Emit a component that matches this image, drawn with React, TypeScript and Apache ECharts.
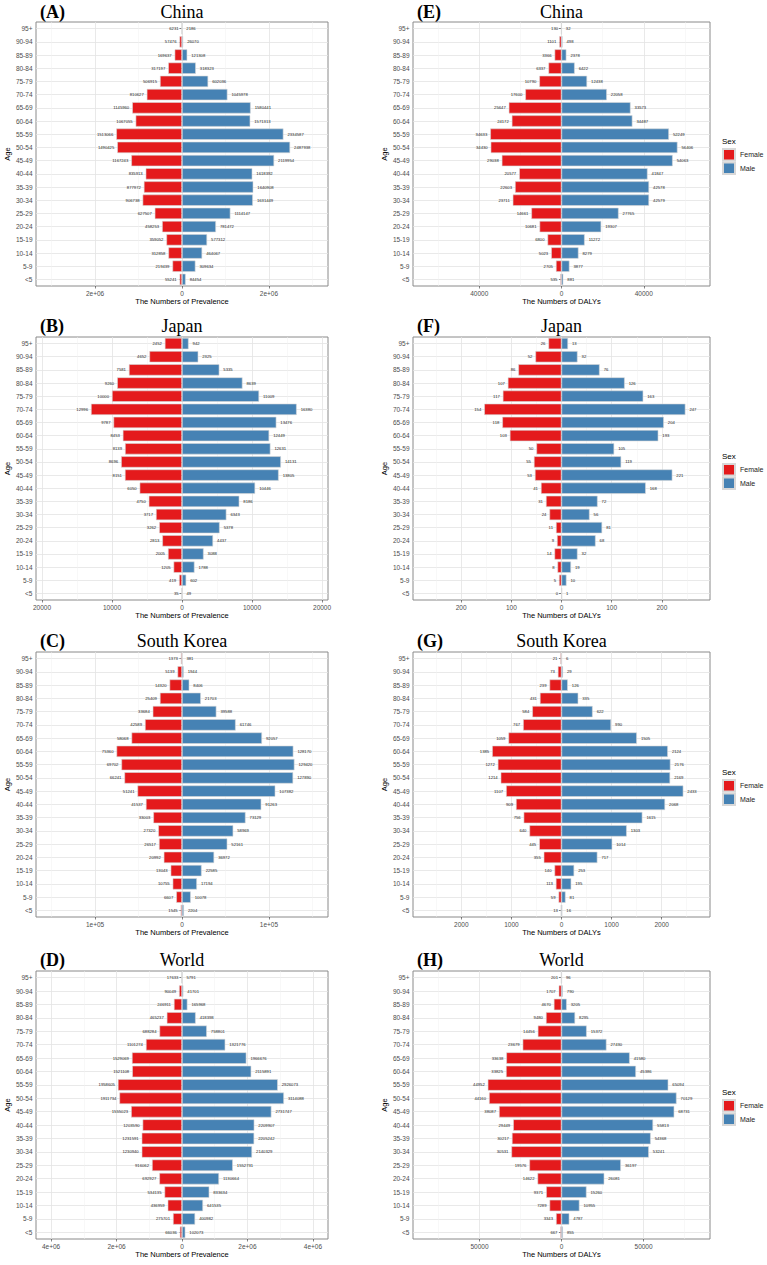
import React, { useEffect, useRef } from 'react';
import * as echarts from 'echarts';

// ---------- data ----------
const ageGroups = ['<5', '5-9', '10-14', '15-19', '20-24', '25-29', '30-34', '35-39', '40-44', '45-49', '50-54', '55-59', '60-64', '65-69', '70-74', '75-79', '80-84', '85-89', '90-94', '95+'];

// Prevalence (ordered <5 -> 95+)
const chinaPrevFemale = [55241, 219439, 312858, 359052, 458253, 627507, 906738, 877972, 835913, 1167243, 1490425, 1513066, 1067055, 1145960, 810627, 506915, 317197, 169637, 57476, 6231];
const chinaPrevMale = [84454, 309634, 464067, 577312, 781472, 1114147, 1631449, 1640908, 1618392, 2119954, 2487938, 2334587, 1571313, 1580441, 1045978, 602036, 318323, 121308, 26070, 2186];
const japanPrevFemale = [35, 419, 1205, 2005, 2813, 3262, 3717, 4750, 6050, 8151, 8696, 8139, 8453, 9787, 12996, 10000, 9260, 7581, 4652, 2452];
const japanPrevMale = [49, 602, 1788, 3088, 4437, 5378, 6343, 8186, 10446, 13805, 14131, 12631, 12449, 13476, 16380, 11009, 8639, 5335, 2325, 942];
const koreaPrevFemale = [1545, 6607, 10755, 13043, 20992, 26517, 27320, 33003, 41537, 51241, 66241, 69702, 75360, 58068, 42589, 33684, 25409, 14320, 5139, 1373];
const koreaPrevMale = [2204, 10078, 17194, 22585, 36972, 52161, 58969, 73129, 91263, 107382, 127890, 129420, 128170, 92057, 61746, 39588, 21703, 8406, 1944, 381];
const worldPrevFemale = [66036, 275701, 436959, 534135, 692927, 916062, 1230940, 1231591, 1203590, 1555023, 1911734, 1958605, 1521108, 1529069, 1101274, 688284, 465237, 246911, 90049, 17633];
const worldPrevMale = [102073, 400982, 641535, 833634, 1130664, 1552731, 2140329, 2205242, 2209907, 2731747, 3114088, 2926073, 2115891, 1966676, 1321776, 758801, 418398, 165968, 41701, 5791];

// DALYs (ordered <5 -> 95+)
const chinaDalyFemale = [535, 2705, 5023, 6800, 10681, 14661, 23711, 22603, 20577, 29038, 34430, 34633, 24172, 25647, 17600, 10790, 6337, 3366, 1101, 130];
const chinaDalyMale = [881, 3877, 8279, 11272, 19307, 27765, 42579, 42578, 41847, 54063, 56406, 52249, 34487, 33573, 22058, 12438, 6422, 2378, 498, 32];
const japanDalyFemale = [0, 5, 8, 14, 9, 11, 24, 31, 41, 53, 55, 50, 103, 118, 154, 117, 107, 86, 52, 26];
const japanDalyMale = [1, 10, 19, 32, 68, 81, 56, 72, 168, 221, 119, 105, 193, 204, 247, 163, 126, 76, 32, 13];
const koreaDalyFemale = [13, 59, 113, 140, 355, 445, 640, 756, 909, 1107, 1214, 1272, 1385, 1059, 767, 584, 431, 239, 73, 21];
const koreaDalyMale = [16, 81, 195, 253, 717, 1014, 1303, 1615, 2068, 2433, 2169, 2176, 2124, 1505, 990, 622, 335, 126, 29, 6];
const worldDalyFemale = [667, 3343, 7289, 9371, 14622, 19576, 30531, 30217, 29449, 38087, 44160, 44952, 33825, 33638, 23679, 14456, 9480, 4670, 1707, 201];
const worldDalyMale = [855, 4787, 10955, 15260, 26081, 36197, 53241, 54368, 55813, 68731, 70129, 65094, 45386, 41580, 27430, 15372, 8295, 3205, 790, 96];

// axis ticks (major with labels, minor grid lines)
const chinaPrevMajor = [-2e6, 0, 2e6];
const chinaPrevMinor = [-3e6, -1e6, 1e6, 3e6];
const chinaPrevLabels = ['2e+06', '0', '2e+06'];
const japanPrevMajor = [-20000, -10000, 0, 10000, 20000];
const japanPrevMinor = [-15000, -5000, 5000, 15000];
const japanPrevLabels = ['20000', '10000', '0', '10000', '20000'];
const koreaPrevMajor = [-1e5, 0, 1e5];
const koreaPrevMinor = [-1.5e5, -5e4, 5e4, 1.5e5];
const koreaPrevLabels = ['1e+05', '0', '1e+05'];
const worldPrevMajor = [-4e6, -2e6, 0, 2e6, 4e6];
const worldPrevMinor = [-3e6, -1e6, 1e6, 3e6];
const worldPrevLabels = ['4e+06', '2e+06', '0', '2e+06', '4e+06'];
const chinaDalyMajor = [-40000, 0, 40000];
const chinaDalyMinor = [-60000, -20000, 20000, 60000];
const chinaDalyLabels = ['40000', '0', '40000'];
const japanDalyMajor = [-200, -100, 0, 100, 200];
const japanDalyMinor = [-250, -150, -50, 50, 150, 250];
const japanDalyLabels = ['200', '100', '0', '100', '200'];
const koreaDalyMajor = [-2000, -1000, 0, 1000, 2000];
const koreaDalyMinor = [-2500, -1500, -500, 500, 1500, 2500];
const koreaDalyLabels = ['2000', '1000', '0', '1000', '2000'];
const worldDalyMajor = [-50000, 0, 50000];
const worldDalyMinor = [-75000, -25000, 25000, 75000];
const worldDalyLabels = ['50000', '0', '50000'];

const sexes = ['Female', 'Male'];

// ---------- layout ----------
type Panel = {
  tag: string; country: string; female: number[]; male: number[]; range: number;
  majors: number[]; minors: number[]; labels: string[]; xName: string;
  left: number; top: number; width: number; height: number; titleY: number;
  legendTop?: number; sexY?: number;
};

const PREV = 'The Numbers of Prevalence';
const DALY = 'The Numbers of DALYs';
const LX = 36, LW = 292, RX = 413, RW = 297;

const panels: Panel[] = [
  { tag: '(A)', country: 'China', female: chinaPrevFemale, male: chinaPrevMale, range: 3.36e6, majors: chinaPrevMajor, minors: chinaPrevMinor, labels: chinaPrevLabels, xName: PREV, left: LX, top: 22, width: LW, height: 264, titleY: 11.5 },
  { tag: '(B)', country: 'Japan', female: japanPrevFemale, male: japanPrevMale, range: 20850, majors: japanPrevMajor, minors: japanPrevMinor, labels: japanPrevLabels, xName: PREV, left: LX, top: 337, width: LW, height: 263, titleY: 325.5 },
  { tag: '(C)', country: 'South Korea', female: koreaPrevFemale, male: koreaPrevMale, range: 1.68e5, majors: koreaPrevMajor, minors: koreaPrevMinor, labels: koreaPrevLabels, xName: PREV, left: LX, top: 652, width: LW, height: 265, titleY: 640.5 },
  { tag: '(D)', country: 'World', female: worldPrevFemale, male: worldPrevMale, range: 4.46e6, majors: worldPrevMajor, minors: worldPrevMinor, labels: worldPrevLabels, xName: PREV, left: LX, top: 971, width: LW, height: 268, titleY: 959.5 },
  { tag: '(E)', country: 'China', female: chinaDalyFemale, male: chinaDalyMale, range: 72200, majors: chinaDalyMajor, minors: chinaDalyMinor, labels: chinaDalyLabels, xName: DALY, left: RX, top: 22, width: RW, height: 264, titleY: 11.5, legendTop: 148, sexY: 141 },
  { tag: '(F)', country: 'Japan', female: japanDalyFemale, male: japanDalyMale, range: 296, majors: japanDalyMajor, minors: japanDalyMinor, labels: japanDalyLabels, xName: DALY, left: RX, top: 337, width: RW, height: 263, titleY: 325.5, legendTop: 463, sexY: 456 },
  { tag: '(G)', country: 'South Korea', female: koreaDalyFemale, male: koreaDalyMale, range: 2965, majors: koreaDalyMajor, minors: koreaDalyMinor, labels: koreaDalyLabels, xName: DALY, left: RX, top: 652, width: RW, height: 265, titleY: 640.5, legendTop: 779, sexY: 772 },
  { tag: '(H)', country: 'World', female: worldDalyFemale, male: worldDalyMale, range: 90500, majors: worldDalyMajor, minors: worldDalyMinor, labels: worldDalyLabels, xName: DALY, left: RX, top: 971, width: RW, height: 268, titleY: 959.5, legendTop: 1099, sexY: 1092 },
];

const SANS = 'Liberation Sans, Arial, sans-serif';
const SERIF = 'Liberation Serif, Times New Roman, serif';
const RED = '#E41A1C';
const BLUE = '#4682B4';
const MAJOR_GRID = '#E3E3E3';
const MINOR_GRID = '#F0F0F0';

function buildOption() {
  const grid = panels.map(p => ({
    left: p.left, top: p.top, width: p.width, height: p.height,
    show: true, borderColor: '#8a8a8a', borderWidth: 1, backgroundColor: '#ffffff',
  }));

  const xAxis: any[] = [];
  // major axes (index 0..7): labels, ticks, major grid lines
  panels.forEach((p, i) => {
    xAxis.push({
      type: 'value', gridIndex: i, min: -p.range, max: p.range, position: 'bottom',
      axisLine: { show: false },
      axisTick: { show: true, customValues: p.majors, length: 2.5, lineStyle: { color: '#333', width: 0.6 } },
      axisLabel: {
        customValues: p.majors, fontSize: 6.5, color: '#4D4D4D', margin: 3.5, fontFamily: SANS,
        formatter: (v: number) => { const k = p.majors.indexOf(v); return k >= 0 ? p.labels[k] : ''; },
      },
      splitLine: { show: true, lineStyle: { color: MAJOR_GRID, width: 0.8 } },
      name: p.xName, nameLocation: 'middle', nameGap: 10,
      nameTextStyle: { fontSize: 7.5, color: '#000', fontFamily: SANS },
    });
  });
  // minor axes (index 8..15): only minor grid lines
  panels.forEach((p, i) => {
    xAxis.push({
      type: 'value', gridIndex: i, min: -p.range, max: p.range, position: 'top',
      axisLine: { show: false },
      axisTick: { show: false, customValues: p.minors },
      axisLabel: { show: false, customValues: p.minors },
      splitLine: { show: true, lineStyle: { color: MINOR_GRID, width: 0.5 } },
    });
  });

  const yAxis = panels.map((p, i) => ({
    type: 'category', gridIndex: i, data: ageGroups,
    axisLine: { show: false },
    axisTick: { show: true, alignWithLabel: true, length: 2.5, lineStyle: { color: '#333', width: 0.6 } },
    axisLabel: { interval: 0, fontSize: 6.5, color: '#4D4D4D', margin: 3.5, fontFamily: SANS },
    splitLine: { show: true, alignWithLabel: true, interval: 0, lineStyle: { color: MAJOR_GRID, width: 0.8 } },
    name: 'Age', nameLocation: 'middle', nameGap: 21, nameRotate: 90,
    nameTextStyle: { fontSize: 7.5, color: '#000', fontFamily: SANS },
  }));

  const series: any[] = [];
  panels.forEach((p, i) => {
    series.push({
      type: 'bar', name: 'Female', xAxisIndex: i, yAxisIndex: i,
      data: p.female.map(v => -v), barGap: '-100%', barCategoryGap: '14%',
      itemStyle: { color: RED, borderColor: '#d8d8d8', borderWidth: 0.6 },
      label: {
        show: true, position: 'left', distance: 3, fontSize: 4.2, color: '#222', fontFamily: SANS,
        formatter: (q: any) => String(Math.abs(q.value)),
      },
    });
    series.push({
      type: 'bar', name: 'Male', xAxisIndex: i, yAxisIndex: i,
      data: p.male, barGap: '-100%', barCategoryGap: '14%',
      itemStyle: { color: BLUE, borderColor: '#d8d8d8', borderWidth: 0.6 },
      label: {
        show: true, position: 'right', distance: 4, fontSize: 4.2, color: '#222', fontFamily: SANS,
        formatter: (q: any) => String(Math.abs(q.value)),
      },
    });
  });

  const legend = panels.filter(p => p.legendTop !== undefined).map(p => ({
    orient: 'vertical', left: 722, top: p.legendTop, padding: 0,
    itemWidth: 12, itemHeight: 11.5, itemGap: 0, icon: 'rect', data: sexes,
    selectedMode: false,
    textStyle: { fontSize: 7, color: '#1a1a1a', fontFamily: SANS },
  }));

  const graphic: any[] = [];
  panels.forEach(p => {
    graphic.push({
      type: 'text', x: p.left + p.width / 2, y: p.titleY,
      style: { text: p.country, fontSize: 18, fontFamily: SERIF, fill: '#000', textAlign: 'center', textVerticalAlign: 'middle' },
    });
    graphic.push({
      type: 'text', x: p.left + 4, y: p.titleY,
      style: { text: p.tag, fontSize: 18, fontWeight: 'bold', fontFamily: SERIF, fill: '#000', textAlign: 'left', textVerticalAlign: 'middle' },
    });
    if (p.sexY !== undefined) {
      graphic.push({
        type: 'text', x: 722, y: p.sexY,
        style: { text: 'Sex', fontSize: 8, fontFamily: SANS, fill: '#000', textAlign: 'left', textVerticalAlign: 'middle' },
      });
    }
  });

  return {
    animation: false,
    backgroundColor: '#ffffff',
    grid, xAxis, yAxis, series, legend, graphic,
  };
}

export default function App() {
  const ref = useRef<HTMLDivElement>(null);
  useEffect(() => {
    if (!ref.current) return;
    const chart = echarts.init(ref.current, undefined, { renderer: 'svg' });
    chart.setOption(buildOption() as any);
    return () => chart.dispose();
  }, []);
  return <div ref={ref} style={{ position: 'absolute', left: 0, top: 0, width: 767, height: 1265 }} />;
}
